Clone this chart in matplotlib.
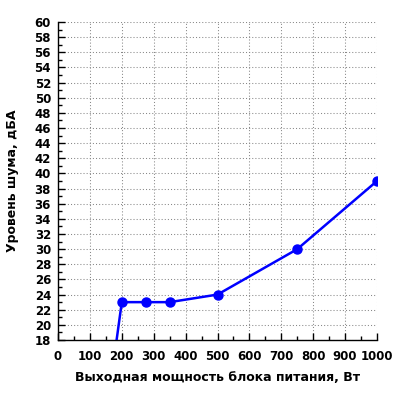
import matplotlib
matplotlib.use("Agg")
import matplotlib.pyplot as plt
from matplotlib.ticker import MultipleLocator

# power output, W / noise level, dBA
power = [125, 200, 275, 350, 500, 750, 1000]
noise = [0, 23, 23, 23, 24, 30, 39]

plt.rcParams['font.family'] = ['DejaVu Sans']
plt.rcParams['font.weight'] = 'bold'

fig = plt.figure(figsize=(4, 4), dpi=100, facecolor='white')
ax = fig.add_axes([0.145, 0.15, 0.7975, 0.795])

ax.plot(power[1:], noise[1:], color='#0000FF', linewidth=1.8,
        marker='o', markersize=6.5, zorder=3)
ax.plot(power[:2], noise[:2], color='#0000FF', linewidth=1.8, zorder=3)

ax.set_xlim(0, 1000)
ax.set_ylim(18, 60)
ax.xaxis.set_major_locator(MultipleLocator(100))
ax.xaxis.set_minor_locator(MultipleLocator(50))
ax.yaxis.set_major_locator(MultipleLocator(2))
ax.yaxis.set_minor_locator(MultipleLocator(1))
ax.tick_params(which='major', direction='in', length=5, width=1, labelsize=8.5)
ax.tick_params(which='minor', direction='in', length=3, width=1)
ax.tick_params(axis='x', which='major', pad=7)
ax.tick_params(axis='y', which='major', pad=5)
for lbl in ax.get_xticklabels() + ax.get_yticklabels():
    lbl.set_fontweight('bold')

ax.grid(True, which='major', linestyle=(0, (1, 2)), color='#888888', linewidth=0.75)
for s in ax.spines.values():
    s.set_linewidth(1)
    s.set_color('black')
ax.spines['top'].set_visible(False)
ax.spines['right'].set_visible(False)

ax.set_xlabel('Выходная мощность блока питания, Вт', fontsize=9, fontweight='bold', labelpad=6)
ax.set_ylabel('Уровень шума, дБА', fontsize=9, fontweight='bold', labelpad=11)

fig.savefig('out.png', dpi=100, facecolor='white')
